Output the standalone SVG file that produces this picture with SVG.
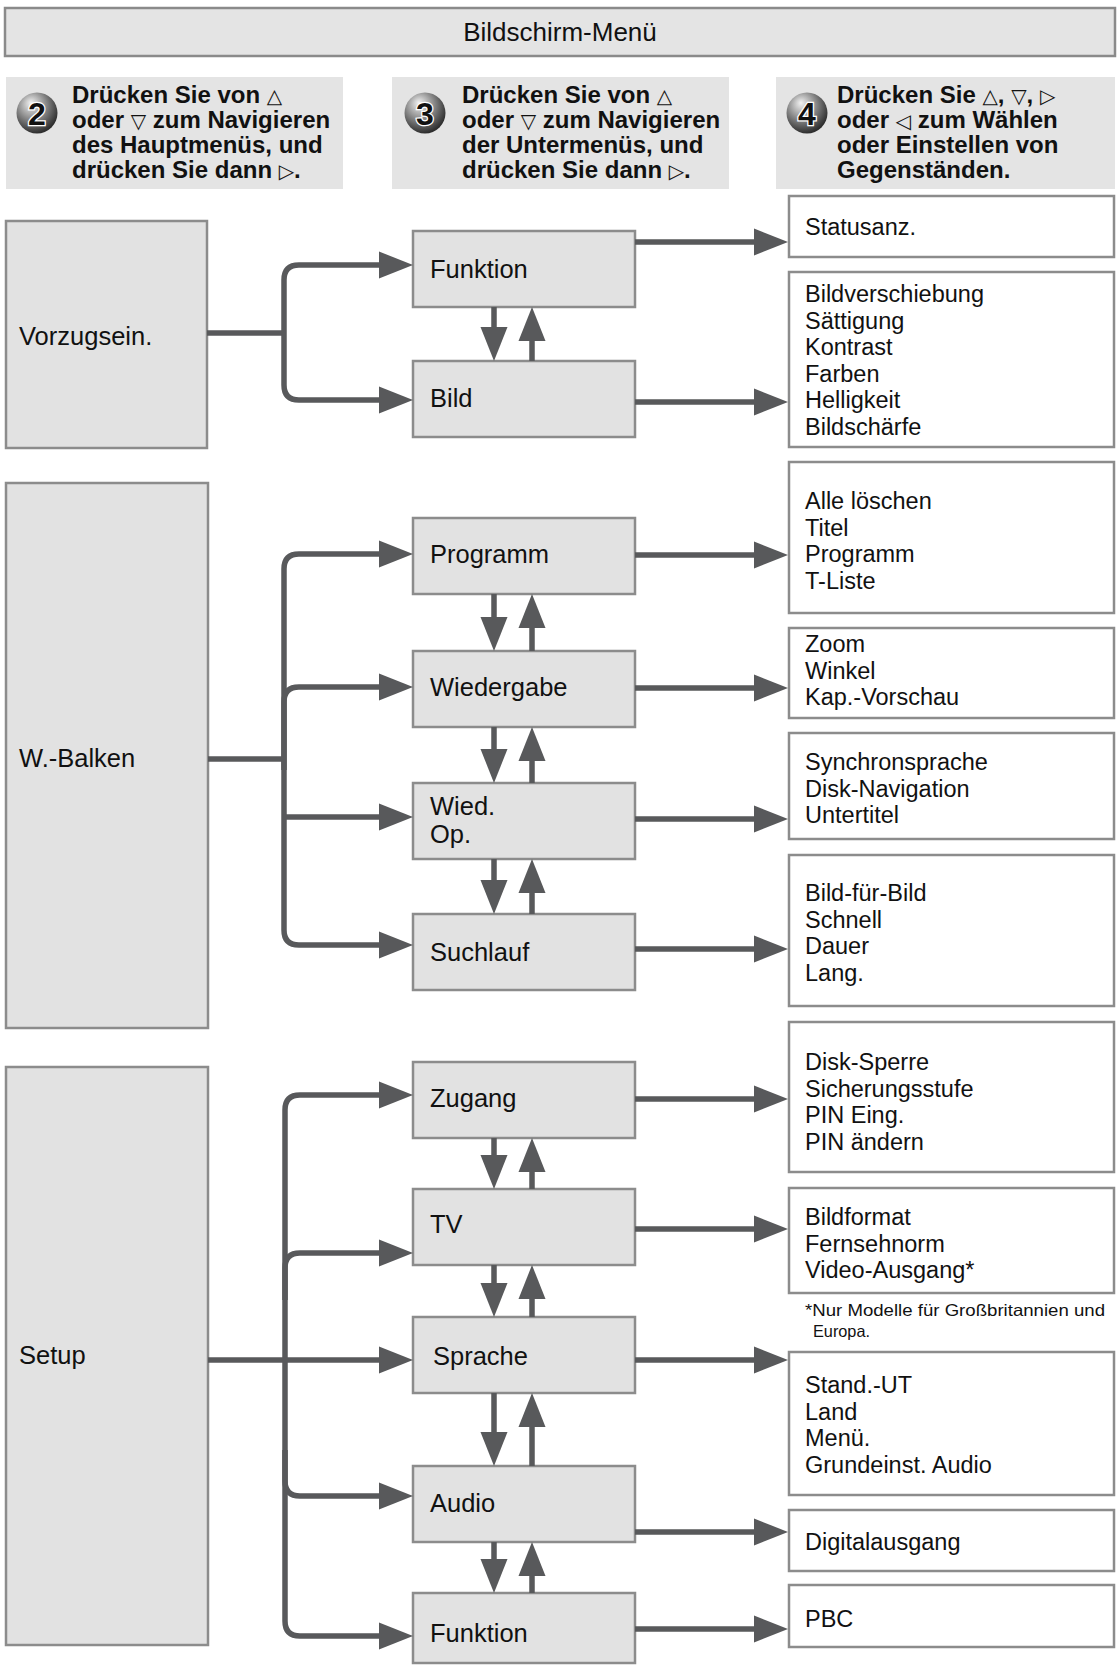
<svg xmlns="http://www.w3.org/2000/svg" width="1118" height="1665" viewBox="0 0 1118 1665">
  <defs>
    <radialGradient id="ball" cx="0.4" cy="0.35" r="0.65" fx="0.35" fy="0.25">
      <stop offset="0" stop-color="#f2f2f2"/>
      <stop offset="0.45" stop-color="#9a9a9a"/>
      <stop offset="1" stop-color="#2e2e2e"/>
    </radialGradient>
    <polygon id="hr" points="0,0 -34,-13.5 -34,13.5"/>
    <polygon id="hd" points="0,0 -13.5,-34 13.5,-34"/>
    <polygon id="hu" points="0,0 -13.5,34 13.5,34"/>
  </defs>
  <style>
    .box { fill: #e2e2e2; stroke: #8c8c8c; stroke-width: 2.5; }
    .lst { fill: #ffffff; stroke: #8c8c8c; stroke-width: 2.5; }
    .hdr { fill: #e4e4e4; stroke: none; }
    .lbl { font-family: "Liberation Sans", Arial, sans-serif; font-size: 25.5px; fill: #111; }
    .itm { font-family: "Liberation Sans", Arial, sans-serif; font-size: 23.5px; fill: #111; }
    .ttl { font-family: "Liberation Sans", Arial, sans-serif; font-size: 26px; fill: #111; text-anchor: middle; }
    .stp { font-family: "Liberation Sans", Arial, sans-serif; font-size: 24px; font-weight: bold; fill: #111; }
    .sym { font-family: "DejaVu Sans", sans-serif; font-size: 20px; font-weight: normal; }
    .num { font-family: "Liberation Sans", Arial, sans-serif; font-size: 32px; font-weight: bold; fill: #111; stroke: #fff; stroke-width: 2.5; paint-order: stroke; text-anchor: middle; }
    .note { font-family: "Liberation Sans", Arial, sans-serif; font-size: 16.5px; fill: #111; }
    .ln { fill: none; stroke: #58595b; stroke-width: 5.5; }
    .ah { fill: #58595b; }
  </style>

  <!-- title bar -->
  <g id="title">
    <rect x="5" y="8" width="1110" height="48" fill="#e4e4e4" stroke="#8a8a8a" stroke-width="2.5"/>
    <text class="ttl" x="560" y="41">Bildschirm-Menü</text>
  </g>

  <!-- step headers -->
  <g id="step2">
    <rect class="hdr" x="6" y="77" width="337" height="112"/>
    <circle cx="37" cy="113" r="20.5" fill="url(#ball)"/>
    <text class="num" x="37" y="125">2</text>
    <text class="stp" x="72" y="103">Drücken Sie von <tspan class="sym">△</tspan></text>
    <text class="stp" x="72" y="128">oder <tspan class="sym">▽</tspan> zum Navigieren</text>
    <text class="stp" x="72" y="153">des Hauptmenüs, und</text>
    <text class="stp" x="72" y="178">drücken Sie dann <tspan class="sym">▷</tspan>.</text>
  </g>
  <g id="step3">
    <rect class="hdr" x="392" y="77" width="337" height="112"/>
    <circle cx="425" cy="113" r="20.5" fill="url(#ball)"/>
    <text class="num" x="425" y="125">3</text>
    <text class="stp" x="462" y="103">Drücken Sie von <tspan class="sym">△</tspan></text>
    <text class="stp" x="462" y="128">oder <tspan class="sym">▽</tspan> zum Navigieren</text>
    <text class="stp" x="462" y="153">der Untermenüs, und</text>
    <text class="stp" x="462" y="178">drücken Sie dann <tspan class="sym">▷</tspan>.</text>
  </g>
  <g id="step4">
    <rect class="hdr" x="776" y="77" width="339" height="112"/>
    <circle cx="807" cy="113" r="20.5" fill="url(#ball)"/>
    <text class="num" x="807" y="125">4</text>
    <text class="stp" x="837" y="103">Drücken Sie <tspan class="sym">△</tspan>, <tspan class="sym">▽</tspan>, <tspan class="sym">▷</tspan></text>
    <text class="stp" x="837" y="128">oder <tspan class="sym">◁</tspan> zum Wählen</text>
    <text class="stp" x="837" y="153">oder Einstellen von</text>
    <text class="stp" x="837" y="178">Gegenständen.</text>
  </g>

  <!-- main menus -->
  <g id="vorzugsein">
    <rect class="box" x="6" y="221" width="201" height="227"/>
    <text class="lbl" x="19" y="345">Vorzugsein.</text>
  </g>
  <g id="wbalken">
    <rect class="box" x="6" y="483" width="202" height="545"/>
    <text class="lbl" x="19" y="767">W.-Balken</text>
  </g>
  <g id="setup">
    <rect class="box" x="6" y="1067" width="202" height="578"/>
    <text class="lbl" x="19" y="1364">Setup</text>
  </g>

  <!-- sub menus -->
  <g id="funktion1">
    <rect class="box" x="413" y="231" width="222" height="76"/>
    <text class="lbl" x="430" y="278">Funktion</text>
  </g>
  <g id="bild">
    <rect class="box" x="413" y="361" width="222" height="76"/>
    <text class="lbl" x="430" y="407">Bild</text>
  </g>
  <g id="programm">
    <rect class="box" x="413" y="518" width="222" height="76"/>
    <text class="lbl" x="430" y="563">Programm</text>
  </g>
  <g id="wiedergabe">
    <rect class="box" x="413" y="651" width="222" height="76"/>
    <text class="lbl" x="430" y="696">Wiedergabe</text>
  </g>
  <g id="wiedop">
    <rect class="box" x="413" y="783" width="222" height="76"/>
    <text class="lbl" x="430" y="815">Wied.</text>
    <text class="lbl" x="430" y="843">Op.</text>
  </g>
  <g id="suchlauf">
    <rect class="box" x="413" y="914" width="222" height="76"/>
    <text class="lbl" x="430" y="961">Suchlauf</text>
  </g>
  <g id="zugang">
    <rect class="box" x="413" y="1062" width="222" height="76"/>
    <text class="lbl" x="430" y="1107">Zugang</text>
  </g>
  <g id="tv">
    <rect class="box" x="413" y="1189" width="222" height="76"/>
    <text class="lbl" x="430" y="1233">TV</text>
  </g>
  <g id="sprache">
    <rect class="box" x="413" y="1317" width="222" height="76"/>
    <text class="lbl" x="433" y="1365">Sprache</text>
  </g>
  <g id="audio">
    <rect class="box" x="413" y="1466" width="222" height="76"/>
    <text class="lbl" x="430" y="1512">Audio</text>
  </g>
  <g id="funktion2">
    <rect class="box" x="413" y="1593" width="222" height="70"/>
    <text class="lbl" x="430" y="1642">Funktion</text>
  </g>

  <!-- option lists -->
  <g id="opt-funktion1">
    <rect class="lst" x="789" y="196" width="325" height="61"/>
    <text class="itm" x="805" y="235">Statusanz.</text>
  </g>
  <g id="opt-bild">
    <rect class="lst" x="789" y="272" width="325" height="175"/>
    <text class="itm" x="805" y="302">Bildverschiebung</text>
    <text class="itm" x="805" y="328.5">Sättigung</text>
    <text class="itm" x="805" y="355">Kontrast</text>
    <text class="itm" x="805" y="381.5">Farben</text>
    <text class="itm" x="805" y="408">Helligkeit</text>
    <text class="itm" x="805" y="434.5">Bildschärfe</text>
  </g>
  <g id="opt-programm">
    <rect class="lst" x="789" y="462" width="325" height="151"/>
    <text class="itm" x="805" y="509">Alle löschen</text>
    <text class="itm" x="805" y="535.5">Titel</text>
    <text class="itm" x="805" y="562">Programm</text>
    <text class="itm" x="805" y="588.5">T-Liste</text>
  </g>
  <g id="opt-wiedergabe">
    <rect class="lst" x="789" y="628" width="325" height="90"/>
    <text class="itm" x="805" y="652">Zoom</text>
    <text class="itm" x="805" y="678.5">Winkel</text>
    <text class="itm" x="805" y="705">Kap.-Vorschau</text>
  </g>
  <g id="opt-wiedop">
    <rect class="lst" x="789" y="733" width="325" height="106"/>
    <text class="itm" x="805" y="770">Synchronsprache</text>
    <text class="itm" x="805" y="796.5">Disk-Navigation</text>
    <text class="itm" x="805" y="823">Untertitel</text>
  </g>
  <g id="opt-suchlauf">
    <rect class="lst" x="789" y="855" width="325" height="151"/>
    <text class="itm" x="805" y="901">Bild-für-Bild</text>
    <text class="itm" x="805" y="927.5">Schnell</text>
    <text class="itm" x="805" y="954">Dauer</text>
    <text class="itm" x="805" y="980.5">Lang.</text>
  </g>
  <g id="opt-zugang">
    <rect class="lst" x="789" y="1022" width="325" height="150"/>
    <text class="itm" x="805" y="1070">Disk-Sperre</text>
    <text class="itm" x="805" y="1096.5">Sicherungsstufe</text>
    <text class="itm" x="805" y="1123">PIN Eing.</text>
    <text class="itm" x="805" y="1149.5">PIN ändern</text>
  </g>
  <g id="opt-tv">
    <rect class="lst" x="789" y="1188" width="325" height="105"/>
    <text class="itm" x="805" y="1225">Bildformat</text>
    <text class="itm" x="805" y="1251.5">Fernsehnorm</text>
    <text class="itm" x="805" y="1278">Video-Ausgang*</text>
  </g>
  <g id="footnote">
    <text class="note" x="805" y="1316" textLength="300" lengthAdjust="spacingAndGlyphs">*Nur Modelle für Großbritannien und</text>
    <text class="note" x="813" y="1337" textLength="57" lengthAdjust="spacingAndGlyphs">Europa.</text>
  </g>
  <g id="opt-sprache">
    <rect class="lst" x="789" y="1352" width="325" height="143"/>
    <text class="itm" x="805" y="1393">Stand.-UT</text>
    <text class="itm" x="805" y="1419.5">Land</text>
    <text class="itm" x="805" y="1446">Menü.</text>
    <text class="itm" x="805" y="1472.5">Grundeinst. Audio</text>
  </g>
  <g id="opt-audio">
    <rect class="lst" x="789" y="1510" width="325" height="61"/>
    <text class="itm" x="805" y="1550">Digitalausgang</text>
  </g>
  <g id="opt-funktion2">
    <rect class="lst" x="789" y="1585" width="325" height="62"/>
    <text class="itm" x="805" y="1627">PBC</text>
  </g>

  <!-- connectors -->
  <g id="connectors">
    <!-- Vorzugsein. branches -->
    <path class="ln" d="M207,333 H284"/>
    <path class="ln" d="M381,265 H299 Q284,265 284,280 V385 Q284,400 299,400 H381"/>
    <!-- W.-Balken branches -->
    <path class="ln" d="M208,759 H284"/>
    <path class="ln" d="M381,554 H299 Q284,554 284,569 V930 Q284,945 299,945 H381"/>
    <path class="ln" d="M284,770 V702 Q284,687 299,687 H381"/>
    <path class="ln" d="M284,817 H381"/>
    <!-- Setup branches -->
    <path class="ln" d="M381,1095 H300 Q285,1095 285,1110 V1621 Q285,1636 300,1636 H381"/>
    <path class="ln" d="M285,1300 V1268 Q285,1253 300,1253 H381"/>
    <path class="ln" d="M208,1360 H381"/>
    <path class="ln" d="M285,1450 V1481 Q285,1496 300,1496 H381"/>
    <g class="ah">
      <use href="#hr" x="413" y="265"/>
      <use href="#hr" x="413" y="400"/>
      <use href="#hr" x="413" y="554"/>
      <use href="#hr" x="413" y="687"/>
      <use href="#hr" x="413" y="817"/>
      <use href="#hr" x="413" y="945"/>
      <use href="#hr" x="413" y="1095"/>
      <use href="#hr" x="413" y="1253"/>
      <use href="#hr" x="413" y="1360"/>
      <use href="#hr" x="413" y="1496"/>
      <use href="#hr" x="413" y="1636"/>
    </g>

    <!-- sub menu to option list -->
    <path class="ln" d="M635,242 H756 M635,402 H756 M635,555 H756 M635,688 H756 M635,819 H756 M635,949 H756 M635,1099 H756 M635,1229 H756 M635,1360 H756 M635,1532 H756 M635,1629 H756"/>
    <g class="ah">
      <use href="#hr" x="788" y="242"/>
      <use href="#hr" x="788" y="402"/>
      <use href="#hr" x="788" y="555"/>
      <use href="#hr" x="788" y="688"/>
      <use href="#hr" x="788" y="819"/>
      <use href="#hr" x="788" y="949"/>
      <use href="#hr" x="788" y="1099"/>
      <use href="#hr" x="788" y="1229"/>
      <use href="#hr" x="788" y="1360"/>
      <use href="#hr" x="788" y="1532"/>
      <use href="#hr" x="788" y="1629"/>
    </g>

    <!-- up / down between sub menus -->
    <path class="ln" d="M494,307 V329 M532,338 V361
                        M494,594 V619 M532,626 V651
                        M494,727 V751 M532,759 V783
                        M494,859 V882 M532,891 V914
                        M494,1138 V1157 M532,1170 V1189
                        M494,1265 V1285 M532,1297 V1317
                        M494,1393 V1434 M532,1425 V1466
                        M494,1542 V1561 M532,1574 V1593"/>
    <g class="ah">
      <use href="#hd" x="494" y="361"/><use href="#hu" x="532" y="307"/>
      <use href="#hd" x="494" y="651"/><use href="#hu" x="532" y="594"/>
      <use href="#hd" x="494" y="783"/><use href="#hu" x="532" y="727"/>
      <use href="#hd" x="494" y="914"/><use href="#hu" x="532" y="859"/>
      <use href="#hd" x="494" y="1189"/><use href="#hu" x="532" y="1138"/>
      <use href="#hd" x="494" y="1317"/><use href="#hu" x="532" y="1265"/>
      <use href="#hd" x="494" y="1466"/><use href="#hu" x="532" y="1393"/>
      <use href="#hd" x="494" y="1593"/><use href="#hu" x="532" y="1542"/>
    </g>
  </g>
</svg>
